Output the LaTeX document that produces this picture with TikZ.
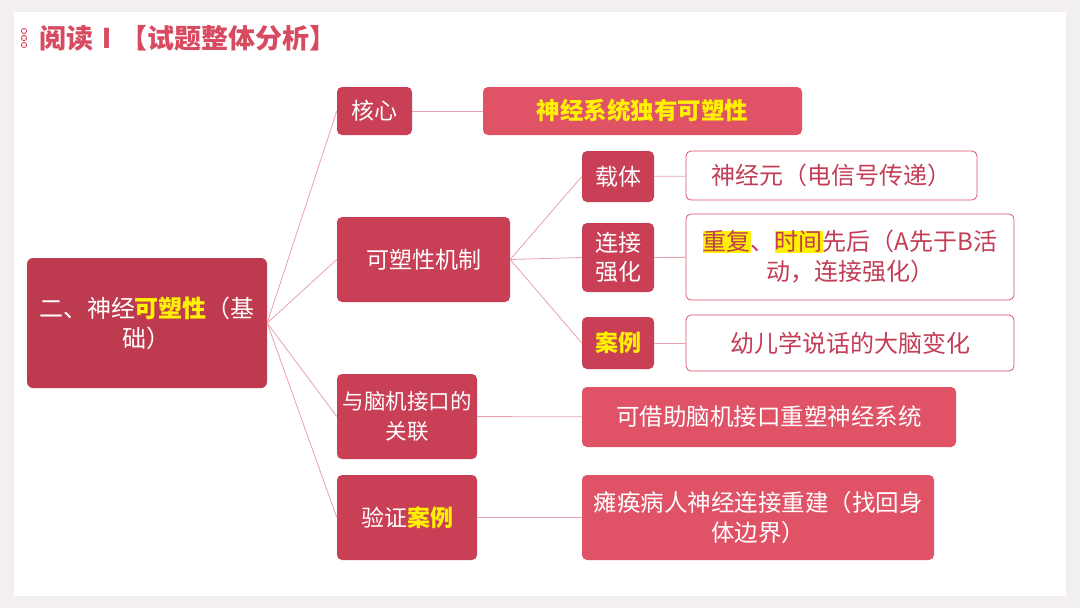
\documentclass[tikz,border=0pt]{standalone}
\usepackage{fontspec}
\setmainfont{Noto Sans CJK SC}
\usetikzlibrary{positioning}
\definecolor{framegray}{HTML}{F3EEEF}
\definecolor{rootred}{HTML}{BE3A4F}
\definecolor{midred}{HTML}{C93F55}
\definecolor{lightred}{HTML}{E05367}
\definecolor{edgered}{HTML}{D85468}
\definecolor{textred}{HTML}{C23D55}
\definecolor{titlered}{HTML}{D84A60}
\definecolor{linkpink}{HTML}{E8A2AD}
\definecolor{hiyellow}{HTML}{FFF200}
\newcommand{\hl}[1]{\textcolor{hiyellow}{\bfseries #1}}
\newcommand{\hlmark}[1]{{\setlength{\fboxsep}{0pt}\colorbox{hiyellow}{#1}}}
\tikzset{
  rootbox/.style={
    rectangle, fill=rootred, rounded corners=6pt,
    minimum width=240pt, minimum height=130pt, text width=228pt,
    align=center, text=white, font=\fontsize{24}{30}\selectfont, inner sep=2pt,
  },
  midbox/.style={
    rectangle, fill=midred, rounded corners=5pt,
    align=center, text=white, font=\fontsize{23}{30}\selectfont, inner sep=2pt,
  },
  leafbox/.style={
    rectangle, fill=lightred, rounded corners=5pt,
    align=center, text=white, font=\fontsize{23.5}{30}\selectfont, inner sep=2pt,
  },
  whitebox/.style={
    rectangle, draw=edgered, line width=0.8pt, fill=white, rounded corners=5pt,
    align=center, text=textred, font=\fontsize{24}{30}\selectfont, inner sep=2pt,
  },
  link/.style={
    line width=0.8pt, draw=linkpink,
  },
}

\begin{document}
\begin{tikzpicture}[x=1pt, y=-1pt]

  % slide frame
  \fill[framegray] (0,0) rectangle (1080,608);
  \fill[white] (14,12) rectangle (1066,596);
  \useasboundingbox (0,0) rectangle (1080,608);

  % title
  \foreach \yy in {31,38,45}
    \draw[titlered, line width=0.9pt] (24,\yy) circle (2.6pt);
  \node[anchor=west, text=titlered, font=\fontsize{27}{30}\selectfont\bfseries, inner sep=0pt]
    (title) at (39,38) {阅读Ⅰ【试题整体分析】};

  % root
  \node[rootbox] (root) at (147,323) {二、神经\hl{可塑性}（基\\础）};

  % second level
  \node[midbox, minimum width=75pt, minimum height=48pt] (core) at (374.5,111) {核心};
  \node[midbox, minimum width=173pt, minimum height=85pt] (mech) at (423.5,259.5) {可塑性机制};
  \node[midbox, minimum width=140pt, minimum height=85pt, text width=136pt, font=\fontsize{21.5}{30}\selectfont] (bci) at (407,416.5) {与脑机接口的\\关联};
  \node[midbox, minimum width=140pt, minimum height=85pt] (proof) at (407,517.5) {验证\hl{案例}};

  % third level
  \node[leafbox, minimum width=319pt, minimum height=48pt] (coredesc) at (642.5,111) {\hl{神经系统独有可塑性}};
  \node[midbox, minimum width=72pt, minimum height=51pt] (carrier) at (618,176.5) {载体};
  \node[midbox, minimum width=72pt, minimum height=69pt, text width=66pt, font=\fontsize{23}{29}\selectfont] (strong) at (618,257.5) {连接\\强化};
  \node[midbox, minimum width=72pt, minimum height=52pt] (case) at (618,343) {\hl{案例}};
  \node[whitebox, minimum width=291pt, minimum height=49pt] (neuron) at (831.5,175.5) {神经元（电信号传递）};
  \node[whitebox, minimum width=328pt, minimum height=86pt, text width=320pt] (repeat) at (850,257)
    {\hlmark{重复}、\hlmark{时间}先后（A先于B活\\动，连接强化）};
  \node[whitebox, minimum width=328pt, minimum height=56pt] (child) at (850,343) {幼儿学说话的大脑变化};
  \node[leafbox, minimum width=374pt, minimum height=60pt] (reshape) at (769,417) {可借助脑机接口重塑神经系统};
  \node[leafbox, minimum width=352pt, minimum height=85pt, text width=348pt] (patient) at (758,517.5)
    {瘫痪病人神经连接重建（找回身\\体边界）};

  % links
  \foreach \dst in {core, mech, bci, proof}
    \draw[link] (root.east) -- (\dst.west);
  \foreach \dst in {carrier, strong, case}
    \draw[link] (mech.east) -- (\dst.west);
  \draw[link] (core) -- (coredesc);
  \draw[link] (carrier) -- (neuron);
  \draw[link] (strong) -- (repeat);
  \draw[link] (case) -- (child);
  \draw[link] (bci) -- (reshape);
  \draw[link] (proof) -- (patient);

\end{tikzpicture}
\end{document}
